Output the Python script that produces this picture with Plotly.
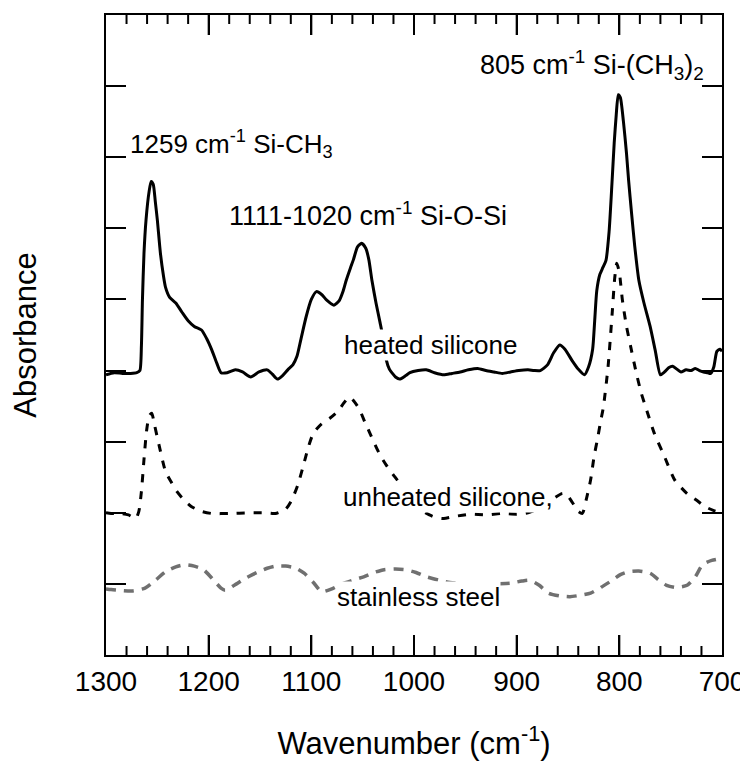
import plotly.graph_objects as go

# ---------------- data ----------------
heated_wn = [1300, 1292, 1284, 1276, 1270, 1267, 1265.5, 1264.5, 1263, 1261, 1258, 1256, 1254, 1252, 1250,
             1247, 1244, 1242, 1238, 1232, 1226, 1220, 1214, 1207, 1202, 1197, 1192, 1188, 1182, 1174,
             1167, 1159, 1151, 1143, 1138, 1133, 1128, 1123, 1118, 1114, 1110, 1105, 1100, 1095, 1090,
             1085, 1078, 1073, 1069, 1066, 1062, 1059, 1055, 1051, 1047, 1044, 1041, 1037, 1033, 1030,
             1027, 1024, 1021, 1018, 1014, 1008, 1004, 996, 988, 980, 971, 963, 955, 947, 938,
             930, 922, 914, 906, 898, 889, 883, 877, 870, 864, 858, 853, 846, 840, 834,
             830, 826, 824, 822, 819, 816, 813, 810, 807, 805, 803, 801, 799, 796, 793,
             791, 788, 785, 781, 776, 770, 765, 760, 756, 752, 748, 744, 740, 735, 730,
             726, 722, 718, 714, 711, 708, 705, 702, 700]
heated_abs = [3.94, 3.97, 3.96, 3.96, 3.97, 4.0, 4.35, 5.0, 5.65, 6.12, 6.52, 6.66, 6.62, 6.38, 6.12,
              5.65, 5.33, 5.17, 5.03, 4.95, 4.82, 4.70, 4.62, 4.57, 4.45, 4.29, 4.10, 3.97, 3.97, 4.01,
              3.98, 3.91, 3.98, 4.01, 3.95, 3.88, 3.93, 4.01, 4.08, 4.2, 4.45, 4.76, 5.0, 5.11, 5.07,
              4.99, 4.92, 4.98, 5.12, 5.27, 5.44, 5.56, 5.74, 5.79, 5.72, 5.56, 5.27, 4.95, 4.67, 4.45,
              4.15, 4.02, 3.96, 3.91, 3.88, 3.93, 3.97, 4.0, 4.01, 3.97, 3.94, 3.96, 3.98, 4.01, 4.03,
              4.0, 3.98, 3.96, 3.98, 4.0, 4.01, 4.0, 4.0, 4.08, 4.25, 4.36, 4.30, 4.14, 4.02, 3.94,
              4.05, 4.3, 4.7, 5.12, 5.35, 5.45, 5.55, 5.95, 6.68, 7.2, 7.6, 7.88, 7.84, 7.5, 7.05,
              6.68, 6.2, 5.75, 5.27, 4.95, 4.62, 4.28, 3.94, 3.98, 4.04, 4.06, 4.02, 3.98, 4.01, 4.0,
              4.03, 4.0, 3.98, 3.97, 3.96, 4.05, 4.27, 4.3, 4.27]

unheated_wn = [1300, 1295, 1285, 1278, 1271, 1268, 1265.5, 1263, 1260.5, 1258, 1255.5, 1252.5, 1248, 1242, 1236,
               1231, 1224, 1217, 1207, 1197, 1180, 1160, 1145, 1135, 1125, 1119, 1113, 1108, 1103, 1098,
               1090, 1082, 1074, 1068, 1063, 1058, 1053, 1048, 1043, 1038, 1033, 1027, 1020, 1012, 1004,
               997, 991, 985, 978, 971, 960, 945, 930, 915, 900, 889, 880, 870, 862, 856,
               852, 846, 840, 836, 832, 828, 824.5, 821.5, 818, 815.5, 811, 807, 804.5, 802.5, 800,
               797, 793, 789, 784, 778.6, 774.4, 766, 756, 746, 734, 725, 717, 708, 700]
unheated_abs = [2.0, 1.99, 1.99, 1.97, 1.92, 2.02, 2.3, 2.75, 3.15, 3.36, 3.40, 3.22, 2.93, 2.58, 2.42,
                2.30, 2.18, 2.09, 2.02, 1.99, 1.99, 2.0, 2.0, 1.99, 2.05, 2.18, 2.4, 2.65, 2.92, 3.12,
                3.25, 3.33, 3.43, 3.55, 3.63, 3.56, 3.45, 3.28, 3.12, 2.96, 2.81, 2.67, 2.53, 2.38, 2.22,
                2.1, 2.02, 1.97, 1.93, 1.92, 1.95, 1.98, 1.97, 1.99, 1.98, 2.0, 2.05, 2.14, 2.22, 2.27,
                2.27, 2.15, 2.02, 1.99, 2.2, 2.46, 2.8, 3.02, 3.3, 3.49, 4.05, 4.80, 5.3, 5.51, 5.38,
                4.99, 4.62, 4.34, 4.0, 3.68, 3.49, 3.12, 2.79, 2.46, 2.27, 2.18, 2.09, 2.03, 1.99]

steel_wn = [1300, 1295, 1287, 1275, 1262, 1252, 1242, 1232, 1223, 1214, 1205, 1195, 1188, 1184, 1175,
            1164, 1153, 1143, 1135, 1125, 1115, 1107, 1098, 1090, 1080, 1070, 1060, 1049, 1039, 1029,
            1018, 1008, 998, 988, 975, 965, 950, 935, 920, 906, 895, 887, 878, 869, 858,
            848, 838, 828, 818, 807, 799, 791, 781, 770, 762, 754, 745, 734, 726, 719,
            710, 700]
steel_abs = [0.93, 0.92, 0.91, 0.90, 0.94, 1.05, 1.17, 1.24, 1.27, 1.25, 1.20, 1.05, 0.94, 0.91, 0.98,
             1.08, 1.16, 1.22, 1.25, 1.25, 1.22, 1.15, 1.02, 0.89, 0.93, 1.0, 1.05, 1.10, 1.16, 1.20,
             1.21, 1.20, 1.16, 1.10, 1.05, 1.02, 1.0, 0.99, 1.0, 1.01, 1.04, 1.05, 0.98, 0.87, 0.83,
             0.82, 0.84, 0.87, 0.95, 1.05, 1.13, 1.17, 1.18, 1.15, 1.06, 0.98, 0.95, 0.98, 1.1, 1.27,
             1.33, 1.36]

y_tick_vals = [1, 2, 3, 4, 5, 6, 7, 8]
x_tick_vals = [1300, 1200, 1100, 1000, 900, 800, 700]
x_tick_text = ["1300", "1200", "1100", "1000", "900", "800", "700"]
x_major_marks = [1200, 1100, 1000, 900, 800]
x_minor_marks = [w for w in range(720, 1300, 20) if w % 100 != 0]

Y_MIN, Y_MAX = 0, 9
FONT = "Liberation Sans, Arial, sans-serif"

fig = go.Figure()
fig.add_trace(go.Scatter(x=steel_wn, y=steel_abs, mode="lines",
                         line=dict(color="#707070", width=3.5, dash="10px,8px", shape="spline", smoothing=0.6),
                         showlegend=False, hoverinfo="skip"))
fig.add_trace(go.Scatter(x=unheated_wn, y=unheated_abs, mode="lines",
                         line=dict(color="black", width=3, dash="8px,9px", shape="spline", smoothing=0.6),
                         showlegend=False, hoverinfo="skip"))
fig.add_trace(go.Scatter(x=heated_wn, y=heated_abs, mode="lines",
                         line=dict(color="black", width=3, shape="spline", smoothing=0.6),
                         showlegend=False, hoverinfo="skip"))

ann_font = dict(family=FONT, size=26, color="black")
annotations = [
    dict(x=717, y=8.30, text="805 cm<sup>-1</sup> Si-(CH<sub>3</sub>)<sub>2</sub>", xanchor="right", yanchor="middle",
         font=dict(family=FONT, size=27, color="black")),
    dict(x=1277.6, y=7.18, text="1259 cm<sup>-1</sup> Si-CH<sub>3</sub>", xanchor="left", yanchor="middle", font=ann_font),
    dict(x=1181.5, y=6.20, text="1111-1020 cm<sup>-1</sup> Si-O-Si", xanchor="left", yanchor="middle",
         font=dict(family=FONT, size=27, color="black")),
    dict(x=984.4, y=4.36, text="heated silicone", xanchor="center", yanchor="middle", bgcolor="white", font=ann_font),
    dict(x=966.9, y=2.22, text="unheated silicone,", xanchor="center", yanchor="middle", bgcolor="white", font=ann_font),
    dict(x=996.1, y=0.82, text="stainless steel", xanchor="center", yanchor="middle", bgcolor="white", font=ann_font),
]
for a in annotations:
    fig.add_annotation(xref="x", yref="y", showarrow=False, borderpad=0, **a)

# x tick marks drawn as short segments in axis units (inside, bottom and top)
PX_PER_UNIT = 640 / (Y_MAX - Y_MIN)
def add_xtick(wn, length_px):
    h = length_px / PX_PER_UNIT
    for y0, y1 in ((Y_MIN, Y_MIN + h), (Y_MAX, Y_MAX - h)):
        fig.add_shape(type="line", xref="x", yref="y", x0=wn, x1=wn, y0=y0, y1=y1,
                      line=dict(color="black", width=2), layer="above")

for wn in x_major_marks:
    add_xtick(wn, 20)
for wn in x_minor_marks:
    add_xtick(wn, 9)

# page body adds an 8px offset, so the figure is 8px smaller and margins compensate
fig.update_layout(
    width=740, height=756,
    margin=dict(l=98, r=26, t=7, b=109),
    paper_bgcolor="white", plot_bgcolor="white",
    font=dict(family=FONT, color="black"),
)
fig.update_xaxes(
    range=[1300, 700], tickmode="array", tickvals=x_tick_vals, ticktext=x_tick_text,
    ticks="inside", ticklen=20, tickwidth=2, tickcolor="black",
    showline=True, linewidth=2, linecolor="black", mirror="ticks",
    showgrid=False, zeroline=False, automargin=False,
    tickfont=dict(size=28, family=FONT),
    title=dict(text="Wavenumber (cm<sup>-1</sup>)", font=dict(size=31, family=FONT), standoff=37),
)
fig.update_yaxes(
    range=[Y_MIN, Y_MAX], tickmode="array", tickvals=y_tick_vals, showticklabels=False,
    ticks="inside", ticklen=20, tickwidth=2, tickcolor="black",
    showline=True, linewidth=2, linecolor="black", mirror="ticks",
    showgrid=False, zeroline=False, automargin=False,
    title=dict(text="Absorbance", font=dict(size=31, family=FONT), standoff=66),
)

fig.write_html("out.html")
